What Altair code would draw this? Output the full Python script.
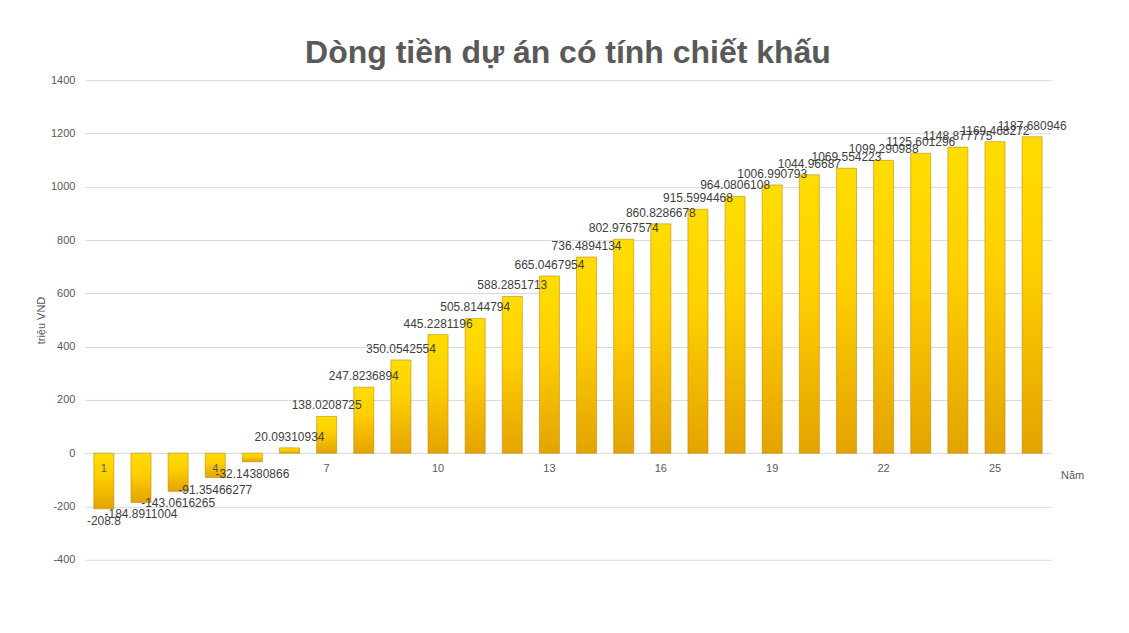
import altair as alt
import pandas as pd

years = list(range(1, 27))
values = [-208.8, -184.8911004, -143.0616265, -91.35466277, -32.14380866,
          20.09310934, 138.0208725, 247.8236894, 350.0542554, 445.2281196,
          505.8144794, 588.2851713, 665.0467954, 736.4894134, 802.9767574,
          860.8286678, 915.5994468, 964.0806108, 1006.990793, 1044.96687,
          1069.554223, 1099.290988, 1125.601296, 1148.877775, 1169.468272,
          1187.680946]
labels = ["-208.8", "-184.8911004", "-143.0616265", "-91.35466277", "-32.14380866",
          "20.09310934", "138.0208725", "247.8236894", "350.0542554", "445.2281196",
          "505.8144794", "588.2851713", "665.0467954", "736.4894134", "802.9767574",
          "860.8286678", "915.5994468", "964.0806108", "1006.990793", "1044.96687",
          "1069.554223", "1099.290988", "1125.601296", "1148.877775", "1169.468272",
          "1187.680946"]

df = pd.DataFrame({"year": years, "value": values, "label": labels})

W, H = 967, 480
zero_offset = -(H - H * 1400 / 1800)

font = "Liberation Sans"
grey = "#595959"

x = alt.X("year:O", title="Năm",
          scale=alt.Scale(paddingInner=0.46, paddingOuter=0.24),
          axis=alt.Axis(labelAngle=0, domain=False, ticks=False, grid=False,
                        offset=zero_offset, zindex=1,
                        labelExpr="(datum.value - 1) % 3 == 0 ? datum.label : ''",
                        labelColor=grey, labelFontSize=11, labelFont=font, labelPadding=9,
                        titleColor=grey, titleFontSize=11, titleFont=font,
                        titleFontWeight="normal", titleX=W + 21, titleY=22,
                        titleAlign="center", titleBaseline="middle"))
y = alt.Y("value:Q", title="triệu VND",
          scale=alt.Scale(domain=[-400, 1400], nice=False),
          axis=alt.Axis(values=list(range(-400, 1401, 200)),
                        labelExpr="'' + datum.value",
                        domain=False, ticks=False,
                        gridColor="#D9D9D9", gridWidth=1, labelColor=grey,
                        labelFontSize=11, labelFont=font, labelPadding=10,
                        titleColor=grey, titleFontSize=11, titleFont=font,
                        titleFontWeight="normal", titlePadding=4))

gradient = alt.Gradient(
    gradient="linear", x1=0, y1=0, x2=0, y2=1,
    stops=[alt.GradientStop(color="#FFDD00", offset=0),
           alt.GradientStop(color="#FFD000", offset=0.4),
           alt.GradientStop(color="#E4A300", offset=1)])

bars = alt.Chart(df).mark_bar(color=gradient, stroke="#B8860B", strokeWidth=0.8,
                              strokeOpacity=0.7).encode(x=x, y=y)

text_pos = alt.Chart(df).transform_filter("datum.value >= 0").mark_text(
    dy=-11, fontSize=12, font=font, color="#404040", baseline="middle"
).encode(x="year:O", y="value:Q", text="label:N")

text_neg = alt.Chart(df).transform_filter("datum.value < 0").mark_text(
    dy=12, fontSize=12, font=font, color="#404040", baseline="middle"
).encode(x="year:O", y="value:Q", text="label:N")

chart = alt.layer(bars, text_pos, text_neg).properties(
    width=W, height=H,
    autosize=alt.AutoSizeParams(type="none"),
    padding={"left": 77, "top": 72, "right": 70, "bottom": 60},
    title=alt.TitleParams("Dòng tiền dự án có tính chiết khấu", fontSize=32,
                          font=font, fontWeight="bold", color=grey, offset=4,
                          anchor="middle"),
).configure(background="white").configure_view(stroke=None)

chart.save("out.html", embed_options={"renderer": "svg", "actions": False})
